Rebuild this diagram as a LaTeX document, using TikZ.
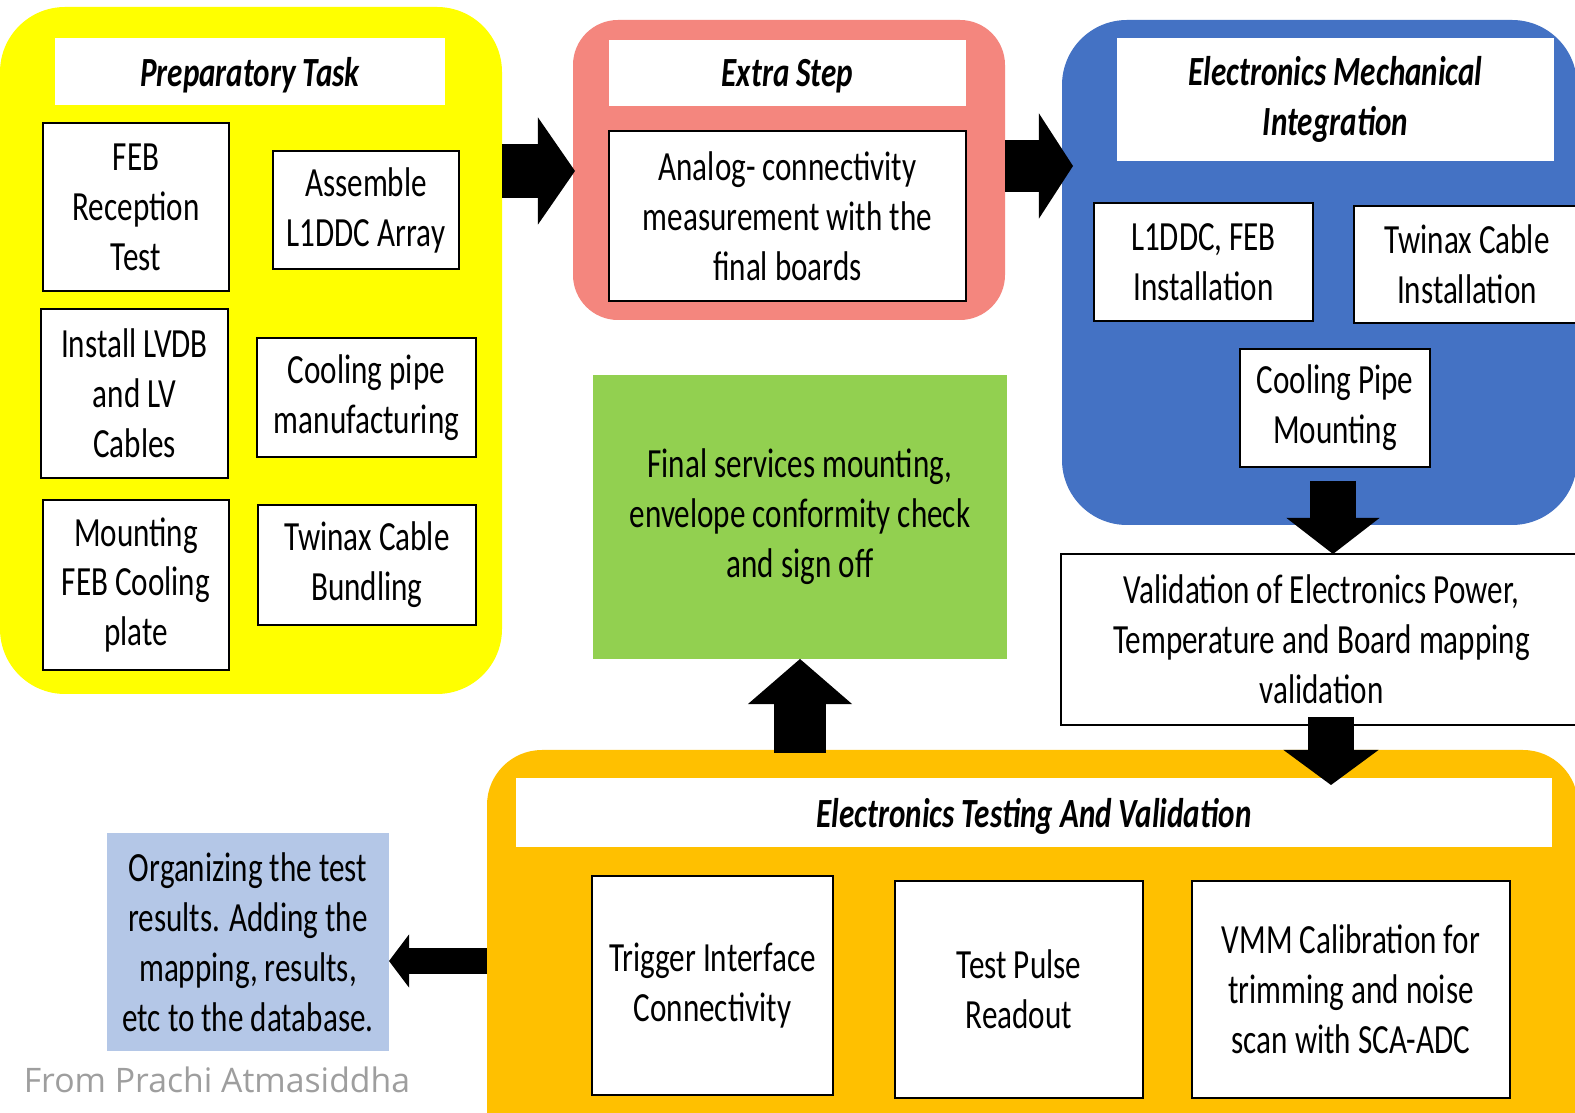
\documentclass[tikz,border=0pt]{standalone}
\usepackage{fontspec}
\setmainfont{Carlito}[FakeStretch=0.75]
\newfontfamily\creditfont{Open Sans}
\usetikzlibrary{calc,arrows.meta}

\definecolor{prepyellow}{RGB}{255,255,0}
\definecolor{extrapink}{RGB}{244,134,126}
\definecolor{integblue}{RGB}{68,114,196}
\definecolor{servgreen}{RGB}{146,208,80}
\definecolor{testorange}{RGB}{255,192,0}
\definecolor{dbblue}{RGB}{180,199,231}
\definecolor{creditgray}{RGB}{158,158,158}

\tikzset{
  every node/.style={font=\fontsize{11.8}{14.2}\selectfont, align=center, inner sep=0pt, outer sep=0pt},
  % a box given by its corners x1/y1/x2/y2 (one unit = 0.01cm)
  span/.style args={#1/#2/#3/#4}{at={({(#1+#3)/2},{(#2+#4)/2})},
    minimum width={(#3-#1)*0.01cm}, minimum height={(#4-#2)*0.01cm}},
  stage/.style={fill=#1},
  heading/.style={fill=white, font=\fontsize{11.8}{14.2}\selectfont\bfseries\itshape},
  oneline/.style={text depth=0pt},
  task/.style={draw=black, fill=white, line width=0.75pt},
  panel/.style={fill=#1},
  fat/.style n args={3}{line width=#1, arrows={-{Triangle[length=#3,width=#2,line width=0pt]}}},
}

\begin{document}
\begin{tikzpicture}[x=0.01cm,y=-0.01cm]
\clip (0,0) rectangle (1575,1113);
\fill[white] (0,0) rectangle (1575,1113);

% stage containers
\node[stage=prepyellow, rounded corners=0.65cm, span=0/7/502/694] (prep) {};
\node[stage=extrapink, rounded corners=0.45cm, span=573/20/1005/320] (extra) {};
\node[stage=integblue, rounded corners=0.65cm, span=1062/20/1577/525] (integ) {};
\node[stage=testorange, rounded corners=0.55cm, span=487/750/1578/1170] (test) {};

% stage headings
\node[heading, oneline, span=55/38/445/105] (prepT) {Preparatory Task};
\node[heading, oneline, span=609/40/966/106] (extraT) {Extra Step};
\node[heading, span=1117/38/1554/161] (integT) {Electronics Mechanical\\Integration};
\node[heading, oneline, span=516/778/1552/847] (testT) {Electronics Testing And Validation};

% preparatory tasks
\node[task, span=43/123/229/291] (feb) {FEB\\Reception\\Test};
\node[task, span=273/151/459/269] (assem) {Assemble\\L1DDC Array};
\node[task, span=41/309/228/478] (lvdb) {Install LVDB\\and LV\\Cables};
\node[task, span=257/338/476/457] (pipe) {Cooling pipe\\manufacturing};
\node[task, span=43/500/229/670] (plate) {Mounting\\FEB Cooling\\plate};
\node[task, span=258/505/476/625] (bundle) {Twinax Cable\\Bundling};

% extra step
\node[task, span=609/131/966/301] (analog) {Analog- connectivity\\measurement with the\\final boards};

% mechanical integration
\node[task, span=1094/203/1313/321] (inst) {L1DDC, FEB\\Installation};
\node[task, span=1354/206/1580/323] (twin) {Twinax Cable\\Installation};
\node[task, span=1240/349/1430/467] (cpm) {Cooling Pipe\\Mounting};

% validation step
\node[task, span=1061/554/1582/725] (valid) {Validation of Electronics Power,\\Temperature and Board mapping\\validation};

% final services
\node[panel=servgreen, span=593/375/1007/659] (green) {Final services mounting,\\envelope conformity check\\and sign off};

% testing and validation
\node[task, span=592/876/833/1095] (trig) {Trigger Interface\\Connectivity};
\node[task, span=895/881/1143/1098] (pulse) {Test Pulse\\Readout};
\node[task, span=1192/881/1510/1098] (vmm) {VMM Calibration for\\trimming and noise\\scan with SCA-ADC};

% database
\node[panel=dbblue, span=107/833/389/1051] (db) {Organizing the test\\results. Adding the\\mapping, results,\\etc to the database.};

\node[text=creditgray, font=\creditfont\fontsize{9.6}{11}\selectfont] (credit) at (217,1080) {From Prachi Atmasiddha};

% flow arrows
\coordinate (lvA) at (0,171);
\coordinate (lvB) at (0,166);
\coordinate (lvC) at (0,961);
\coordinate (dn2) at (1331,0);
\draw[fat={0.53cm}{1.07cm}{0.37cm}] (prep.east |- lvA) -- ($(extra.west |- lvA)+(2,0)$);
\draw[fat={0.52cm}{1.05cm}{0.34cm}] (extra.east |- lvB) -- ($(integ.west |- lvB)+(11,0)$);
\draw[fat={0.46cm}{0.93cm}{0.36cm}] ($(cpm.south)+(-2,14)$) -- ($(cpm.south |- valid.north)+(-2,0)$);
\draw[fat={0.46cm}{0.95cm}{0.35cm}] ($(valid.south -| dn2)+(0,-8)$) -- ($(testT.north -| dn2)+(0,7)$);
\draw[fat={0.52cm}{1.04cm}{0.45cm}] ($(green.south |- test.north)+(0,3)$) -- (green.south);
\draw[fat={0.26cm}{0.53cm}{0.20cm}] (test.west |- lvC) -- (db.east |- lvC);
\end{tikzpicture}
\end{document}
